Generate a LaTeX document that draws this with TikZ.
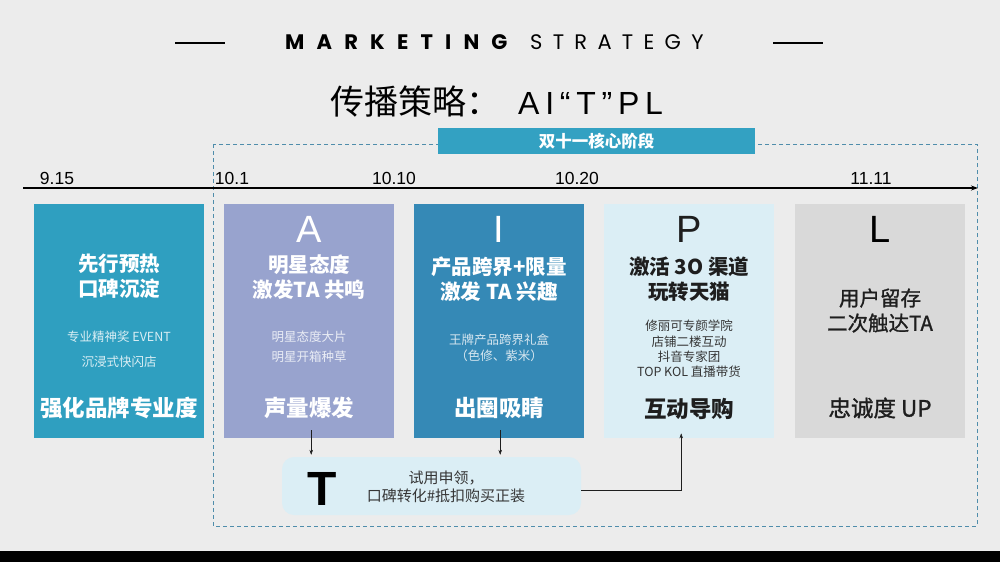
\documentclass[tikz,border=0pt]{standalone}
\usepackage{fontspec}
\setmainfont{Noto Sans CJK SC}
\newfontfamily\latinfont{Liberation Sans}
\newfontfamily\titlefont{Poppins}
\usetikzlibrary{arrows.meta}
\definecolor{paper}{HTML}{ECECEC}
\definecolor{frame}{HTML}{4F8DAB}
\definecolor{banner}{HTML}{33A1C2}
\definecolor{warm}{HTML}{2F9FC0}
\definecolor{lav}{HTML}{98A3CE}
\definecolor{deep}{HTML}{3589B6}
\definecolor{pale}{HTML}{DBEEF5}
\definecolor{grey}{HTML}{D9D9D9}
\definecolor{ink}{HTML}{1E1E1E}

\begin{document}
\begin{tikzpicture}[x=1pt,y=-1pt,
        >={Stealth[length=5pt,width=3.5pt]},
        phase/.style={rectangle,anchor=north west,minimum width=170pt,minimum height=234pt,inner sep=0pt},
        head/.style={inner sep=0pt,align=center,font=\bfseries\fontsize{20.5}{25}\selectfont},
        note/.style={inner sep=0pt,align=center,font=\fontsize{12.5}{#1}\selectfont},
        note/.default=20,
        goal/.style={inner sep=0pt,font=\bfseries\fontsize{22.5}{27}\selectfont},
        letter/.style={inner sep=0pt,anchor=base,font=\latinfont\fontsize{38}{38}\selectfont},
        date/.style={inner sep=0pt,anchor=base,font=\latinfont\fontsize{17.5}{18}\selectfont},
        link/.style={->,thin,draw=ink},
    ]
    % background
    \fill[paper] (0,0) rectangle (1000,562);
    \fill[black] (0,551) rectangle (1000,562);
    \useasboundingbox (0,0) rectangle (1000,562);

    % title
    \draw[line width=2.5pt] (175,43) -- (225,43);
    \draw[line width=2.5pt] (773,43) -- (823,43);
    \node[inner sep=0pt,anchor=base west,font=\titlefont\bfseries\fontsize{21}{21}\selectfont\addfontfeature{LetterSpace=58}] (mkt) at (285,49) {MARKETING};
    \node[inner sep=0pt,anchor=base west,font=\titlefont\fontsize{21}{21}\selectfont\addfontfeature{LetterSpace=49}] (str) at (530,49) {STRATEGY};
    \node[inner sep=0pt,anchor=base west,font=\fontsize{34}{34}\selectfont] (sub) at (330,114)
        {传播策略：\hspace{18pt}{\latinfont\fontsize{32}{32}\selectfont\addfontfeature{LetterSpace=18}AI“T”PL}};

    % core stage frame
    \draw[frame,thin,dash pattern=on 4pt off 3pt] (213,144) rectangle (977,526);
    \node[rectangle,fill=banner,anchor=north west,minimum width=317pt,minimum height=26pt,inner sep=0pt,
          text=white,font=\bfseries\fontsize{16.5}{16.5}\selectfont] (core) at (438,128) {双十一核心阶段};

    % timeline
    \coordinate (t0) at (23,188);
    \coordinate (t1) at (978,188);
    \draw[-{Stealth[length=7pt,width=5pt]},line width=1.6pt] (t0) -- (t1);
    \node[date] (d1) at (57,184) {9.15};
    \node[date] (d2) at (232,184) {10.1};
    \node[date] (d3) at (394,184) {10.10};
    \node[date] (d4) at (577,184) {10.20};
    \node[date] (d5) at (871,184) {11.11};

    % phases
    \node[phase,fill=warm] (pre) at (34,204) {};
    \node[head,text=white] (preh) at (119,276.5) {先行预热\\口碑沉淀};
    \node[note=25,text=white!82!warm] (pren) at (119,349.5) {专业精神奖 EVENT\\沉浸式快闪店};
    \node[goal,text=white] (preg) at (119,408) {强化品牌专业度};

    \node[phase,fill=lav] (abox) at (224,204) {};
    \node[letter,text=white] (al) at (309,242) {A};
    \node[head,text=white] (ah) at (309,277.5) {明星态度\\激发TA 共鸣};
    \node[note=20,text=white!80!lav] (an) at (309,347) {明星态度大片\\明星开箱种草};
    \node[goal,text=white] (ag) at (309,408) {声量爆发};

    \node[phase,fill=deep] (ibox) at (414,204) {};
    \node[letter,text=white] (il) at (499,242) {I};
    \node[head,text=white] (ih) at (499,279.5) {产品跨界+限量\\激发 TA 兴趣};
    \node[note=16,text=white!80!deep] (in) at (499,348) {王牌产品跨界礼盒\\（色修、紫米）};
    \node[goal,text=white] (ig) at (499,408) {出圈吸睛};

    \node[phase,fill=pale] (pbox) at (604,204) {};
    \node[letter,text=ink] (pl) at (689,242) {P};
    \node[head,text=ink] (ph) at (689,279.5) {激活 3O 渠道\\玩转天猫};
    \node[note=15.3,text=ink!90] (pn) at (689,349) {修丽可专颜学院\\店铺二楼互动\\抖音专家团\\TOP KOL 直播带货};
    \node[goal,text=ink] (pg) at (689,409) {互动导购};

    \node[phase,fill=grey] (lbox) at (795,204) {};
    \node[letter,text=black] (ll) at (880,242) {L};
    \node[head,text=ink,font=\fontsize{20.5}{25}\selectfont\addfontfeature{FakeBold=1.2}] (lh) at (880,310.5) {用户留存\\二次触达TA};
    \node[goal,text=ink,font=\fontsize{22.5}{27}\selectfont\addfontfeature{FakeBold=1.2}] (lg) at (880,408) {忠诚度 UP};

    % trial
    \node[rectangle,rounded corners=12pt,fill=pale,minimum width=299pt,minimum height=58pt,inner sep=0pt] (try) at (431.5,486) {};
    \node[inner sep=0pt,anchor=base,font=\latinfont\bfseries\fontsize{48}{48}\selectfont] (tl) at (322,505) {T};
    \node[note=18,text=ink!90,font=\fontsize{15}{18}\selectfont] (tn) at (446,487) {试用申领，\\口碑转化\#抵扣购买正装};

    \draw[link] ([xshift=2pt,yshift=8pt]abox.south) -- ([xshift=2pt,yshift=2pt]abox.south |- try.north);
    \draw[link] ([xshift=1pt,yshift=8pt]ibox.south) -- ([xshift=1pt,yshift=2pt]ibox.south |- try.north);
    \draw[link] ([yshift=-4pt]try.east) -| ([xshift=-8pt,yshift=5pt]pbox.south);
\end{tikzpicture}
\end{document}
